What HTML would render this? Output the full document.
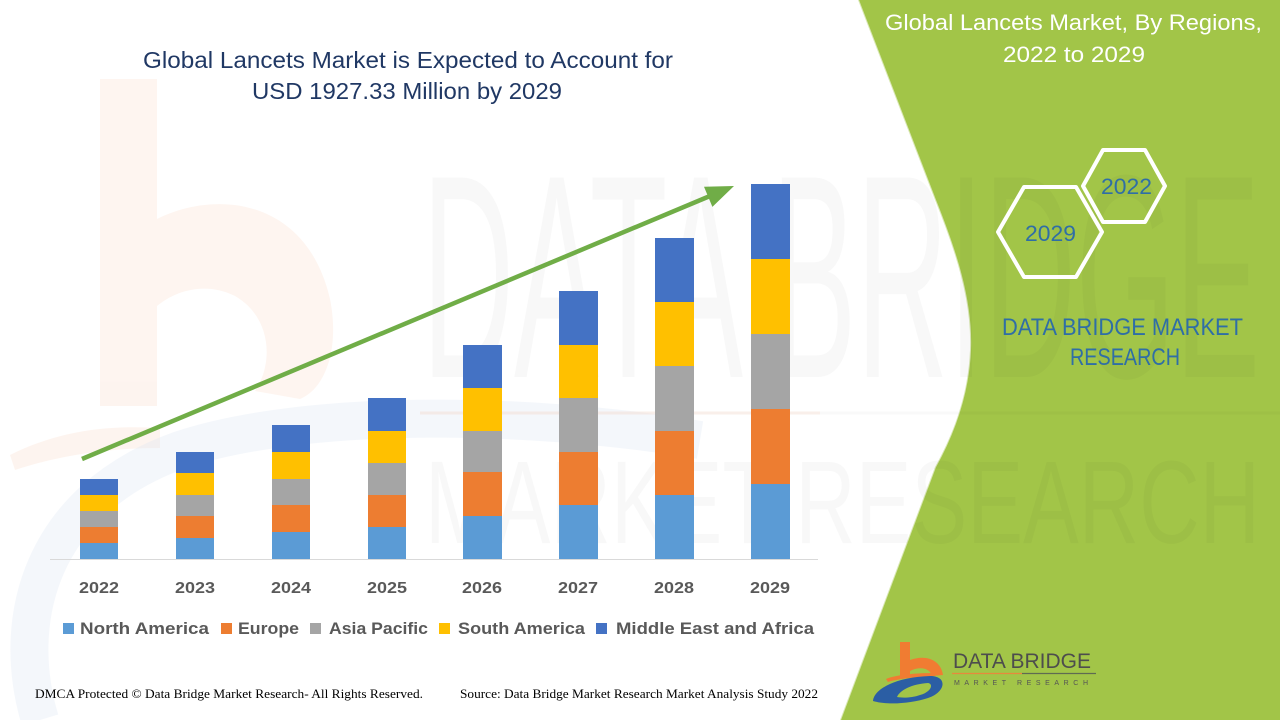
<!DOCTYPE html>
<html>
<head>
<meta charset="utf-8">
<style>
html,body{margin:0;padding:0;background:#fff;}
svg{display:block;}
</style>
</head>
<body>
<svg width="1280" height="720" viewBox="0 0 1280 720" xmlns="http://www.w3.org/2000/svg">
  <rect x="0" y="0" width="1280" height="720" fill="#ffffff"/>

  <!-- faint left watermark "b" and arc -->
  <g opacity="0.18">
    <path d="M100,79 h57 v140 c60,-30 150,-20 173,80 c10,50 -5,90 -30,100 l-45,-8 c20,-30 15,-75 -20,-95 c-30,-15 -60,-5 -78,10 v100 h-57 z" fill="#f9c8ab"/>
    <path d="M10,455 C60,430 110,425 160,428 l0,20 C110,448 60,455 15,470 z" fill="#f9c8ab"/>
  </g>
  <path d="M40,720 C10,620 40,500 180,450 C300,410 520,410 700,440" fill="none" stroke="#dbe4f1" stroke-width="38" opacity="0.3"/>

  <!-- green panel -->
  <path d="M858,0 L935,200 C955,250 972,300 970,350 C968,400 950,440 935,467 L840,720 L1280,720 L1280,0 Z" fill="#a2c548"/>
  <path d="M858,0 L935,200 C955,250 972,300 970,350 C968,400 950,440 935,467 L840,720" fill="none" stroke="#ffffff" stroke-width="2" opacity="0.6"/>

  <!-- big watermark text -->
  <text x="422" y="377" font-family="Liberation Sans, sans-serif" font-size="290" textLength="838" lengthAdjust="spacingAndGlyphs" fill="#000" opacity="0.025">DATA BRIDGE</text>
  <line x1="420" y1="413" x2="820" y2="413" stroke="#f2d9cb" stroke-width="3" opacity="0.4"/>
  <line x1="820" y1="413" x2="1280" y2="413" stroke="#000" stroke-width="3" opacity="0.02"/>
  <text x="425" y="543" font-family="Liberation Sans, sans-serif" font-size="118" textLength="835" lengthAdjust="spacingAndGlyphs" fill="#000" opacity="0.022">MARKET RESEARCH</text>

  <!-- Title -->
  <text x="143" y="68" font-family="Liberation Sans, sans-serif" font-size="23" fill="#203864" textLength="530" lengthAdjust="spacingAndGlyphs">Global Lancets Market is Expected to Account for</text>
  <text x="252" y="99" font-family="Liberation Sans, sans-serif" font-size="23" fill="#203864" textLength="310" lengthAdjust="spacingAndGlyphs">USD 1927.33 Million by 2029</text>

  <!-- axis -->
  <line x1="50" y1="559.5" x2="818" y2="559.5" stroke="#d9d9d9" stroke-width="1"/>

  <!-- bars -->
  <g>
    <rect x="80" y="543" width="38" height="16" fill="#5b9bd5"/>
    <rect x="80" y="527" width="38" height="16" fill="#ed7d31"/>
    <rect x="80" y="511" width="38" height="16" fill="#a5a5a5"/>
    <rect x="80" y="495" width="38" height="16" fill="#ffc000"/>
    <rect x="80" y="479" width="38" height="16" fill="#4472c4"/>

    <rect x="176" y="538" width="38" height="21" fill="#5b9bd5"/>
    <rect x="176" y="516" width="38" height="22" fill="#ed7d31"/>
    <rect x="176" y="495" width="38" height="21" fill="#a5a5a5"/>
    <rect x="176" y="473" width="38" height="22" fill="#ffc000"/>
    <rect x="176" y="452" width="38" height="21" fill="#4472c4"/>

    <rect x="272" y="532" width="38" height="27" fill="#5b9bd5"/>
    <rect x="272" y="505" width="38" height="27" fill="#ed7d31"/>
    <rect x="272" y="479" width="38" height="26" fill="#a5a5a5"/>
    <rect x="272" y="452" width="38" height="27" fill="#ffc000"/>
    <rect x="272" y="425" width="38" height="27" fill="#4472c4"/>

    <rect x="368" y="527" width="38" height="32" fill="#5b9bd5"/>
    <rect x="368" y="495" width="38" height="32" fill="#ed7d31"/>
    <rect x="368" y="463" width="38" height="32" fill="#a5a5a5"/>
    <rect x="368" y="431" width="38" height="32" fill="#ffc000"/>
    <rect x="368" y="398" width="38" height="33" fill="#4472c4"/>

    <rect x="463" y="516" width="39" height="43" fill="#5b9bd5"/>
    <rect x="463" y="472" width="39" height="44" fill="#ed7d31"/>
    <rect x="463" y="431" width="39" height="41" fill="#a5a5a5"/>
    <rect x="463" y="388" width="39" height="43" fill="#ffc000"/>
    <rect x="463" y="345" width="39" height="43" fill="#4472c4"/>

    <rect x="559" y="505" width="39" height="54" fill="#5b9bd5"/>
    <rect x="559" y="452" width="39" height="53" fill="#ed7d31"/>
    <rect x="559" y="398" width="39" height="54" fill="#a5a5a5"/>
    <rect x="559" y="345" width="39" height="53" fill="#ffc000"/>
    <rect x="559" y="291" width="39" height="54" fill="#4472c4"/>

    <rect x="655" y="495" width="39" height="64" fill="#5b9bd5"/>
    <rect x="655" y="431" width="39" height="64" fill="#ed7d31"/>
    <rect x="655" y="366" width="39" height="65" fill="#a5a5a5"/>
    <rect x="655" y="302" width="39" height="64" fill="#ffc000"/>
    <rect x="655" y="238" width="39" height="64" fill="#4472c4"/>

    <rect x="751" y="484" width="39" height="75" fill="#5b9bd5"/>
    <rect x="751" y="409" width="39" height="75" fill="#ed7d31"/>
    <rect x="751" y="334" width="39" height="75" fill="#a5a5a5"/>
    <rect x="751" y="259" width="39" height="75" fill="#ffc000"/>
    <rect x="751" y="184" width="39" height="75" fill="#4472c4"/>
  </g>

  <!-- arrow -->
  <line x1="82" y1="459" x2="710" y2="196" stroke="#70ad47" stroke-width="4.5"/>
  <polygon points="734,186 712.4,206.9 704,186.7" fill="#70ad47"/>

  <!-- year labels -->
  <g font-family="Liberation Sans, sans-serif" font-size="16" font-weight="bold" fill="#595959">
    <text x="79" y="593" textLength="40" lengthAdjust="spacingAndGlyphs">2022</text>
    <text x="175" y="593" textLength="40" lengthAdjust="spacingAndGlyphs">2023</text>
    <text x="271" y="593" textLength="40" lengthAdjust="spacingAndGlyphs">2024</text>
    <text x="367" y="593" textLength="40" lengthAdjust="spacingAndGlyphs">2025</text>
    <text x="462" y="593" textLength="40" lengthAdjust="spacingAndGlyphs">2026</text>
    <text x="558" y="593" textLength="40" lengthAdjust="spacingAndGlyphs">2027</text>
    <text x="654" y="593" textLength="40" lengthAdjust="spacingAndGlyphs">2028</text>
    <text x="750" y="593" textLength="40" lengthAdjust="spacingAndGlyphs">2029</text>
  </g>

  <!-- legend -->
  <rect x="63" y="623" width="11" height="11" fill="#5b9bd5"/>
  <rect x="221" y="623" width="11" height="11" fill="#ed7d31"/>
  <rect x="310" y="623" width="11" height="11" fill="#a5a5a5"/>
  <rect x="439" y="623" width="11" height="11" fill="#ffc000"/>
  <rect x="596" y="623" width="11" height="11" fill="#4472c4"/>
  <g font-family="Liberation Sans, sans-serif" font-size="17" font-weight="bold" fill="#595959">
    <text x="80" y="634" textLength="129" lengthAdjust="spacingAndGlyphs">North America</text>
    <text x="238" y="634" textLength="61" lengthAdjust="spacingAndGlyphs">Europe</text>
    <text x="329" y="634" textLength="99" lengthAdjust="spacingAndGlyphs">Asia Pacific</text>
    <text x="458" y="634" textLength="127" lengthAdjust="spacingAndGlyphs">South America</text>
    <text x="616" y="634" textLength="198" lengthAdjust="spacingAndGlyphs">Middle East and Africa</text>
  </g>

  <!-- footer -->
  <g font-family="Liberation Serif, serif" font-size="13" fill="#000">
    <text x="35" y="698" textLength="388" lengthAdjust="spacingAndGlyphs">DMCA Protected © Data Bridge Market Research- All Rights Reserved.</text>
    <text x="460" y="698" textLength="358" lengthAdjust="spacingAndGlyphs">Source: Data Bridge Market Research Market Analysis Study 2022</text>
  </g>

  <!-- right panel texts -->
  <g font-family="Liberation Sans, sans-serif" font-size="22" fill="#ffffff">
    <text x="885" y="30" textLength="377" lengthAdjust="spacingAndGlyphs">Global Lancets Market, By Regions,</text>
    <text x="1003" y="62" textLength="142" lengthAdjust="spacingAndGlyphs">2022 to 2029</text>
  </g>

  <!-- hexagons -->
  <polygon points="1083,186 1103,150 1145,150 1165,186 1145,222 1103,222" fill="none" stroke="#ffffff" stroke-width="4" stroke-linejoin="round"/>
  <polygon points="998,232 1024,187 1076,187 1102,232 1076,277 1024,277" fill="none" stroke="#ffffff" stroke-width="4" stroke-linejoin="round"/>
  <g font-family="Liberation Sans, sans-serif" font-size="22" fill="#2f6ea6">
    <text x="1101" y="194" textLength="51" lengthAdjust="spacingAndGlyphs">2022</text>
    <text x="1025" y="241" textLength="51" lengthAdjust="spacingAndGlyphs">2029</text>
  </g>

  <g font-family="Liberation Sans, sans-serif" font-size="24" fill="#2f6ea6">
    <text x="1002" y="335" textLength="241" lengthAdjust="spacingAndGlyphs">DATA BRIDGE MARKET</text>
    <text x="1070" y="365" textLength="110" lengthAdjust="spacingAndGlyphs">RESEARCH</text>
  </g>

  <!-- logo -->
  <g>
    <path d="M900,642 h10 v18 c16,-6 31,0 33,15 l-11,1 c-2,-8 -12,-10 -22,-5 v6 h-10 z" fill="#f07c32"/>
    <path d="M886,679 C895,675 915,673 935,673 L935,676 C915,677 897,679 888,682 z" fill="#f07c32"/>
    <path d="M873,701 C874,688 898,677 930,676 C948,676 946,692 928,698 C910,704 886,705 873,701 z M897,697 C900,690 912,684 928,683 C934,684 931,692 920,695 C912,698 902,698 897,697 z" fill="#2b5ea4" fill-rule="evenodd"/>
    <text x="953" y="668" font-family="Liberation Sans, sans-serif" font-size="21" fill="#4d4d4d" textLength="138" lengthAdjust="spacingAndGlyphs">DATA BRIDGE</text>
    <line x1="952" y1="673.5" x2="1022" y2="673.5" stroke="#e8893c" stroke-width="1.2"/>
    <line x1="1022" y1="673.5" x2="1096" y2="673.5" stroke="#5f6b52" stroke-width="1.2"/>
    <text x="954" y="685" font-family="Liberation Sans, sans-serif" font-size="7" fill="#555555" textLength="134" lengthAdjust="spacing">MARKET  RESEARCH</text>
  </g>
</svg>
</body>
</html>
